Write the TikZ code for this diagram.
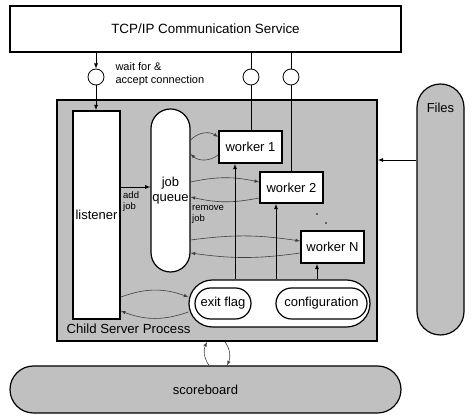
\documentclass[tikz,border=0pt]{standalone}
\usepackage{fontspec}
\setmainfont{Liberation Sans}
\definecolor{procgray}{RGB}{192,192,192}
\tikzstyle{box}=[draw,line width=1.8pt,fill=white,inner sep=0pt]
\tikzstyle{pill}=[draw,line width=1.2pt,inner sep=0pt]
\tikzstyle{port}=[circle,draw,line width=0.8pt,fill=white,minimum size=16pt,inner sep=0pt]
\tikzstyle{link}=[line width=0.8pt]
\tikzstyle{arr}=[line width=0.8pt,-latex]
\tikzstyle{cycle}=[line width=0.6pt,draw=black!75,-latex]
\newcommand{\lbl}{\fontsize{13}{15}\selectfont}
\newcommand{\sml}{\fontsize{9.5}{11.5}\selectfont}

\begin{document}
\begin{tikzpicture}[x=1pt,y=-1pt]
    \useasboundingbox (0,0) rectangle (472,419);
    \node[box,minimum width=391pt,minimum height=46pt,font=\fontsize{13.4}{15}\selectfont] (tcp) at (205.5,29) {TCP/IP Communication Service};
    \node[port] (c1) at (96,77) {};
    \node[port] (c2) at (251,77) {};
    \node[port] (c3) at (291,77) {};
    \node[anchor=west,align=left,font=\fontsize{11}{13}\selectfont] (wait) at (112,74.5) {wait for \&\\accept connection};
    \node[draw,line width=1.8pt,fill=procgray,minimum width=320pt,minimum height=241pt] (child) at (217,220.5) {};
    \node[anchor=west,font=\fontsize{13.2}{15}\selectfont] (cname) at (63,329) {Child Server Process};
    \node[box,minimum width=47pt,minimum height=208pt,font=\lbl] (listener) at (96.5,215) {listener};
    \node[pill,fill=white,rounded corners=19.5pt,minimum width=39pt,minimum height=163pt,align=center,font=\lbl] (queue) at (170.5,190.5) {job\\queue};
    \node[box,minimum width=63pt,minimum height=32pt,font=\lbl] (w1) at (250.5,147) {worker 1};
    \node[box,minimum width=63pt,minimum height=31pt,font=\lbl] (w2) at (291.5,187.5) {worker 2};
    \node[box,minimum width=63pt,minimum height=32pt,font=\lbl] (wN) at (332.5,247) {worker N};
    \node[pill,fill=white,rounded corners=23.5pt,minimum width=181pt,minimum height=47pt] (bar) at (279.5,303.5) {};
    \node[pill,rounded corners=15.5pt,minimum width=56pt,minimum height=31pt,font=\lbl] (exit) at (223,303.5) {exit flag};
    \node[pill,rounded corners=15.5pt,minimum width=91pt,minimum height=31pt,font=\lbl] (conf) at (321.5,303.5) {configuration};
    \node[pill,fill=procgray,rounded corners=23.5pt,minimum width=47pt,minimum height=251pt] (files) at (440.5,209.5) {};
    \node[font=\lbl] (flabel) at (440.5,108) {Files};
    \node[pill,fill=procgray,rounded corners=23.5pt,minimum width=391pt,minimum height=47pt,font=\lbl] (score) at (205.5,389.5) {scoreboard};
    \node[anchor=north west,align=left,font=\sml,inner sep=1pt] (addjob) at (122,190) {add\\job};
    \node[anchor=north west,align=left,font=\sml,inner sep=1pt] (rmjob) at (191,204) {remove\\job};
    \draw[arr] (c1 |- tcp.south) -- (c1);
    \draw[arr] (c1) -- (c1 |- listener.north);
    \draw[link] (c2 |- tcp.south) -- (c2);
    \draw[link] (c2) -- (c2 |- w1.north);
    \draw[link] (c3 |- tcp.south) -- (c3);
    \draw[link] (c3) -- (c3 |- w2.north);
    \draw[arr] ([yshift=28pt]listener.east) -- ([yshift=28pt]listener.east -| queue.west);
    \draw[cycle] ([yshift=50.5pt]queue.east) to[bend left=40] ([yshift=10pt]w1.west);
    \draw[cycle] ([yshift=-8pt]w1.west) to[bend left=40] ([yshift=36.5pt]queue.east);
    \draw[cycle] ([yshift=8.5pt]queue.east) to[bend left=12] ([yshift=5.5pt]w2.west);
    \draw[cycle] ([yshift=-10.5pt]w2.west) to[bend left=12] ([yshift=-6.5pt]queue.east);
    \draw[cycle] ([yshift=-49.5pt]queue.east) to[bend left=8] ([yshift=6pt]wN.west);
    \draw[cycle] ([yshift=-6pt]wN.west) to[bend left=8] ([yshift=-62.5pt]queue.east);
    \draw[cycle] ([yshift=-82pt]listener.east) to[bend left=20] ([yshift=6.5pt]bar.west);
    \draw[cycle] ([yshift=-8.5pt]bar.west) to[bend left=20] ([yshift=-96pt]listener.east);
    \draw[arr] ([xshift=-15.5pt]w1.south |- bar.north) -- ([xshift=-15.5pt]w1.south);
    \draw[arr] ([xshift=-15.5pt]w2.south |- bar.north) -- ([xshift=-15.5pt]w2.south);
    \draw[arr] ([xshift=-15.5pt]wN.south |- bar.north) -- ([xshift=-15.5pt]wN.south);
    \draw[arr] ([yshift=49.5pt]files.west) -- ([yshift=49.5pt]files.west -| child.east);
    \draw[cycle] ([xshift=3.5pt]score.north) to[bend left=30] ([xshift=-10pt]child.south);
    \draw[cycle] ([xshift=8pt]child.south) to[bend left=30] ([xshift=21.5pt]score.north);
    \fill (317,214) circle (0.9pt);
    \fill (326,223) circle (0.9pt);
\end{tikzpicture}
\end{document}
